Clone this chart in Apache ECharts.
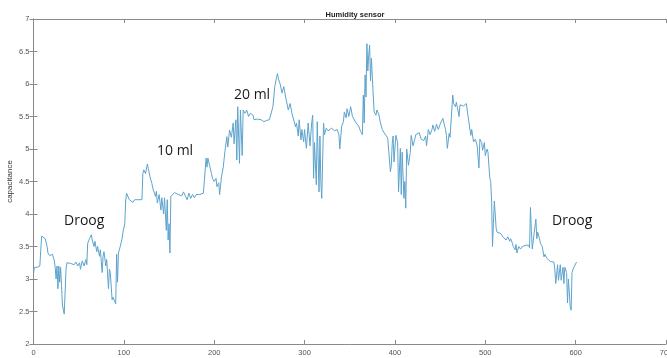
<!DOCTYPE html>
<html>
<head>
<meta charset="utf-8">
<script src="https://cdn.jsdelivr.net/npm/echarts@6/dist/echarts.min.js"></script>
<style>
  html, body { margin: 0; padding: 0; background: #fff; }
  #chart { width: 667px; height: 358px; }
</style>
</head>
<body>
<div id="chart"></div>
<script>
// 数据：[采样序号, 电容值]
const readings = [
  [0,3.08],[1,3.18],[4,3.18],[7,3.2],[9,3.66],[11,3.68],[13,3.62],[15,3.5],[16,3.4],[18,3.36],[20,3.34],[21,3.38],
  [23,3.28],[24,3.18],[25,3.0],[26,3.2],[27,2.85],[28,3.2],[29,2.95],[30,3.18],[31,2.9],[32,2.6],[34,2.46],[35,2.8],
  [36,3.15],[37,3.25],[39,3.26],[41,3.24],[43,3.25],[45,3.22],[47,3.26],[49,3.2],[51,3.25],[52,3.15],[54,3.28],
  [56,3.2],[58,3.3],[59,3.22],[60,3.55],[62,3.62],[64,3.68],[65,3.6],[67,3.5],[68,3.58],[70,3.42],[71,3.5],[73,3.35],
  [74,3.45],[76,3.1],[77,3.35],[78,3.42],[80,3.2],[81,3.3],[83,2.85],[84,3.15],[85,3.1],[87,2.68],[88,2.72],[89,2.7],
  [91,2.62],[92,3.38],[93,2.95],[94,3.4],[96,3.5],[98,3.62],[99,3.72],[101,3.85],[102,4.2],[103,4.32],[104,4.35],
  [106,4.22],[108,4.2],[110,4.18],[112,4.22],[114,4.2],[116,4.22],[118,4.2],[120,4.22],[121,4.62],[122,4.68],
  [124,4.62],[126,4.77],[127,4.7],[129,4.57],[131,4.47],[132,4.4],[133,4.37],[135,4.27],[136,4.35],[137,4.17],
  [139,4.3],[141,4.06],[142,4.25],[144,4.0],[145,4.25],[147,3.75],[148,4.22],[149,3.6],[150,3.85],[151,3.4],
  [152,4.27],[154,4.3],[156,4.33],[158,4.35],[160,4.3],[162,4.32],[164,4.28],[166,4.34],[168,4.28],[170,4.22],
  [172,4.32],[174,4.24],[176,4.3],[178,4.25],[180,4.3],[182,4.27],[184,4.3],[186,4.28],[188,4.32],[190,4.3],
  [191,4.86],[192,4.72],[193,4.86],[195,4.84],[197,4.62],[198,4.55],[200,4.5],[202,4.55],[203,4.42],[205,4.48],
  [206,4.3],[208,4.57],[210,4.72],[212,4.98],[214,5.19],[215,5.03],[217,5.29],[219,5.18],[221,5.4],[222,5.08],
  [224,5.45],[225,4.83],[226,5.65],[228,4.78],[229,5.6],[231,4.9],[232,5.6],[234,5.55],[236,5.6],[238,5.5],
  [240,5.55],[243,5.52],[244,5.45],[246,5.48],[248,5.46],[250,5.44],[252,5.45],[255,5.42],[258,5.44],[261,5.45],
  [263,5.46],[265,5.65],[267,5.96],[269,6.1],[270,6.16],[271,6.08],[273,6.0],[275,5.86],[277,5.96],[279,5.8],
  [281,5.8],[282,5.6],[284,5.7],[286,5.55],[288,5.55],[290,5.34],[291,5.4],[293,5.2],[294,5.45],[296,5.14],
  [297,5.3],[299,5.11],[300,5.3],[302,5.01],[304,5.4],[306,5.05],[308,5.42],[309,5.52],[310,4.55],[311,5.1],
  [313,4.45],[314,5.42],[316,4.34],[317,5.2],[318,4.5],[319,4.24],[321,5.4],[322,5.22],[324,5.32],[326,5.28],
  [328,5.3],[330,5.32],[333,5.28],[336,5.3],[338,5.22],[339,5.0],[341,5.35],[343,5.42],[344,5.57],[346,5.48],
  [347,5.62],[349,5.5],[351,5.65],[353,5.5],[355,5.45],[357,5.4],[359,5.42],[360,5.35],[362,5.27],[364,5.22],
  [365,5.83],[366,5.4],[367,6.14],[368,5.8],[369,6.62],[370,6.2],[371,6.45],[372,6.6],[373,6.05],[374,6.4],
  [375,6.1],[376,5.83],[377,5.57],[379,5.52],[380,5.6],[382,5.54],[384,5.4],[386,5.3],[388,5.25],[390,5.27],
  [392,5.17],[394,5.2],[395,4.65],[396,4.75],[397,5.08],[398,5.2],[399,4.8],[401,5.21],[403,5.1],[404,4.34],
  [406,5.01],[407,4.3],[408,4.95],[410,4.24],[411,4.5],[412,4.09],[413,5.0],[415,4.75],[417,4.95],[418,5.21],
  [420,5.05],[422,5.15],[423,5.22],[425,5.2],[427,5.25],[429,5.15],[432,5.13],[434,5.2],[435,5.05],[437,5.3],
  [439,5.22],[441,5.3],[442,5.37],[444,5.27],[446,5.38],[448,5.3],[450,5.38],[451,5.36],[453,5.47],[454,5.5],
  [456,5.3],[457,5.21],[458,5.01],[460,5.24],[461,5.18],[463,5.2],[464,5.83],[465,5.7],[467,5.65],[468,5.72],
  [469,5.75],[471,5.5],[472,5.68],[474,5.65],[476,5.66],[478,5.65],[479,5.7],[481,5.5],[482,5.4],[484,5.21],
  [485,5.3],[487,5.11],[489,5.15],[491,5.05],[493,4.71],[494,5.15],[496,5.1],[497,4.98],[499,5.1],[500,4.9],
  [502,5.0],[503,4.95],[505,4.55],[506,4.5],[507,4.2],[508,3.5],[509,3.85],[510,4.2],[511,4.0],[512,3.78],
  [513,3.72],[515,3.74],[517,3.7],[518,3.68],[520,3.64],[522,3.66],[523,3.6],[525,3.65],[527,3.58],[528,3.62],
  [530,3.55],[531,3.5],[533,3.45],[534,3.53],[535,3.4],[537,3.5],[539,3.46],[541,3.5],[543,3.5],[545,3.52],
  [546,3.5],[548,3.52],[549,3.48],[550,4.1],[551,3.75],[552,3.46],[554,3.7],[556,3.92],[557,3.62],[558,3.72],
  [560,3.62],[561,3.55],[563,3.5],[565,3.34],[566,3.38],[568,3.32],[570,3.29],[572,3.27],[574,3.25],[576,3.26],
  [577,3.14],[578,2.93],[580,3.22],[581,2.98],[583,3.22],[584,2.98],[586,3.18],[587,2.93],[588,3.18],[590,3.1],
  [591,2.63],[592,3.0],[594,2.57],[595,2.52],[596,3.1],[598,3.18],[599,3.2],[601,3.26]
];

// 注释文字
const notes = [
  { text: 'Droog', x: 64, y: 223 },
  { text: '10 ml', x: 157, y: 153 },
  { text: '20 ml', x: 234, y: 97 },
  { text: 'Droog', x: 552, y: 223 }
];

const axisGray = '#8a8a8a';
const labelGray = '#555';

const chart = echarts.init(document.getElementById('chart'), null, { renderer: 'canvas' });

const baseX = {
  type: 'value', min: 0, max: 700, interval: 100,
  axisLine: { lineStyle: { color: axisGray, width: 1 } },
  axisTick: { inside: true, length: 4, lineStyle: { color: axisGray } },
  splitLine: { show: false }
};
const baseY = {
  type: 'value', min: 2, max: 7, interval: 0.5,
  axisLine: { show: true, lineStyle: { color: axisGray, width: 1 } },
  axisTick: { show: true, inside: true, length: 4, lineStyle: { color: axisGray } },
  splitLine: { show: false }
};

chart.setOption({
  animation: false,
  title: {
    text: 'Humidity sensor',
    left: 350, top: 6, textAlign: 'center',
    textStyle: { fontFamily: 'Liberation Sans', fontSize: 7.5, fontWeight: 'bold', color: '#222' }
  },
  grid: { left: 33.5, right: 1, top: 19, bottom: 14, containLabel: false, outerBoundsMode: 'none' },
  xAxis: [
    Object.assign({}, baseX, {
      position: 'bottom',
      axisLabel: { color: labelGray, fontSize: 7.5, fontFamily: 'Liberation Sans', margin: 5 }
    }),
    Object.assign({}, baseX, { position: 'top', axisLabel: { show: false } })
  ],
  yAxis: [
    Object.assign({}, baseY, {
      position: 'left',
      name: 'capacitance', nameLocation: 'middle', nameGap: 20, nameRotate: 90,
      nameMoveOverlap: false,
      nameTextStyle: { color: '#333', fontSize: 8, fontFamily: 'Liberation Sans' },
      axisLabel: { color: labelGray, fontSize: 7.5, fontFamily: 'Liberation Sans', margin: 4 }
    }),
    Object.assign({}, baseY, { position: 'right', axisLabel: { show: false } })
  ],
  series: [{
    type: 'line',
    data: readings,
    showSymbol: false,
    lineStyle: { color: '#5ea3cc', width: 1 },
    itemStyle: { color: '#5ea3cc' }
  }],
  graphic: notes.map(n => ({
    type: 'text',
    left: n.x, top: n.y - 9,
    style: { text: n.text, fontSize: 14, fontFamily: 'Open Sans', fill: '#1a1a1a' }
  }))
});
</script>
</body>
</html>
